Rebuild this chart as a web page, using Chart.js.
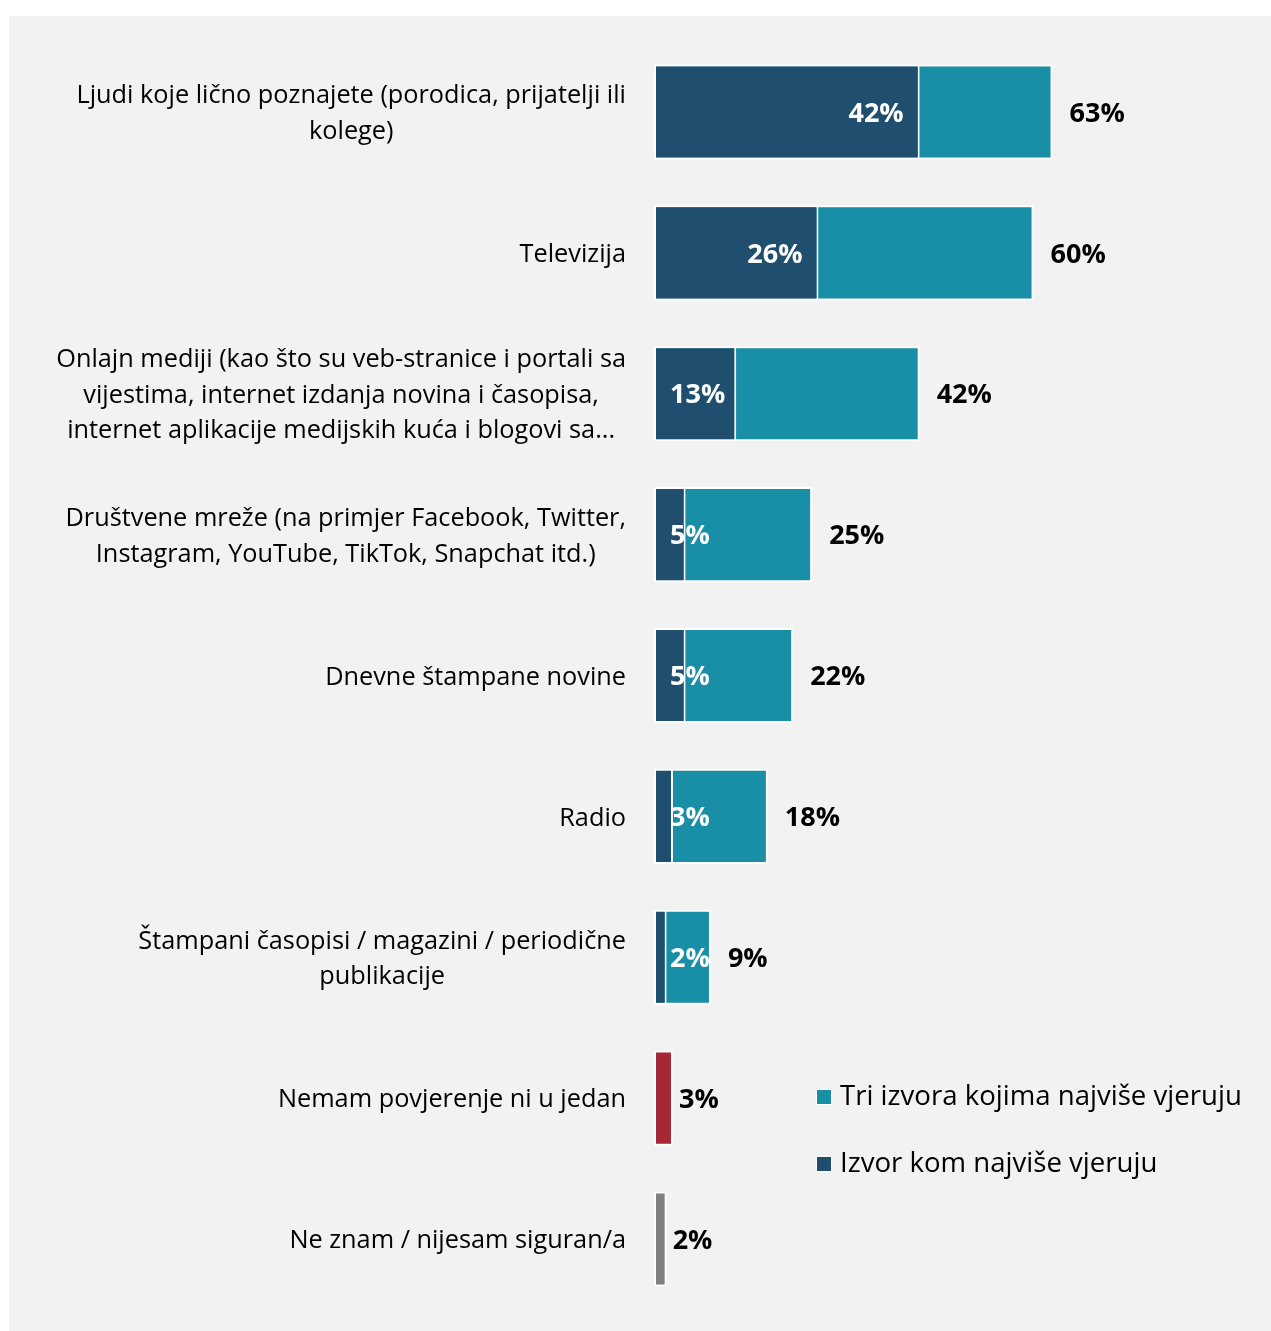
<!DOCTYPE html>
<html>
<head>
<meta charset="utf-8">
<script src="https://cdn.jsdelivr.net/npm/chart.js@4.4.1/dist/chart.umd.min.js"></script>
<style>
    html, body { margin: 0; padding: 0; background: #fff; }
    #grafikon { display: block; }
</style>
</head>
<body>
<canvas id="grafikon" width="1271" height="1331"></canvas>
<script>
const kategorije = [
    ["Ljudi koje lično poznajete (porodica, prijatelji ili", "kolege)"],
    ["Televizija"],
    ["Onlajn mediji (kao što su veb-stranice i portali sa", "vijestima, internet izdanja novina i časopisa,", "internet aplikacije medijskih kuća i blogovi sa..."],
    ["Društvene mreže (na primjer Facebook, Twitter,", "Instagram, YouTube, TikTok, Snapchat itd.)"],
    ["Dnevne štampane novine"],
    ["Radio"],
    ["Štampani časopisi / magazini / periodične", "publikacije"],
    ["Nemam povjerenje ni u jedan"],
    ["Ne znam / nijesam siguran/a"],
];
const triIzvora = [63, 60, 42, 25, 22, 18, 9, 3, 2];
const izvorKom = [42, 26, 13, 5, 5, 3, 2, null, null];
const bojeTri = ["#188ea7", "#188ea7", "#188ea7", "#188ea7", "#188ea7", "#188ea7", "#188ea7", "#a72835", "#808080"];
const tamna = "#1f4e6e";
const svijetla = "#188ea7";

const font = "'Open Sans', 'Noto Sans', sans-serif";

// pozadina
const pozadina = {
    id: "pozadina",
    beforeDraw(chart) {
        const c = chart.ctx;
        c.save();
        c.fillStyle = "#ffffff";
        c.fillRect(0, 0, chart.width, chart.height);
        c.fillStyle = "#f2f2f2";
        c.fillRect(9, 16, chart.width - 9, chart.height - 16);
        c.restore();
    },
};

// nazivi kategorija, centrirani blok, poravnat desno
const nazivi = {
    id: "nazivi",
    afterDraw(chart) {
        const c = chart.ctx;
        const y = chart.scales.y;
        c.save();
        c.font = "25.3px " + font;
        c.fillStyle = "#000";
        c.textBaseline = "middle";
        c.textAlign = "center";
        kategorije.forEach((linije, i) => {
            const sredina = y.getPixelForValue(i) + 2;
            const sirina = Math.max(...linije.map((l) => c.measureText(l).width));
            const xc = chart.chartArea.left - 28 - sirina / 2;
            const visina = 35.5;
            linije.forEach((l, j) => {
                c.fillText(l, xc, sredina + (j - (linije.length - 1) / 2) * visina);
            });
        });
        c.restore();
    },
};

// vrijednosti na trakama
const vrijednosti = {
    id: "vrijednosti",
    afterDatasetsDraw(chart) {
        const c = chart.ctx;
        c.save();
        c.font = "bold 27px " + font;
        c.textBaseline = "middle";
        c.textAlign = "left";
        chart.getDatasetMeta(0).data.forEach((el, i) => {
            const v = triIzvora[i];
            const pomak = i < 7 ? 17 : 6;
            c.fillStyle = "#000";
            c.fillText(v + "%", el.x + pomak, el.y + 2);
        });
        chart.getDatasetMeta(1).data.forEach((el, i) => {
            const v = izvorKom[i];
            if (v == null) return;
            const tekst = v + "%";
            const w = c.measureText(tekst).width;
            let lijevo = el.x - 16 - w;
            if (lijevo < el.base + 16) lijevo = el.base + 16;
            c.fillStyle = "#fff";
            c.fillText(tekst, lijevo, el.y + 2);
        });
        c.restore();
    },
};

// legenda
const legenda = {
    id: "legenda",
    afterDraw(chart) {
        const c = chart.ctx;
        const stavke = [
            { tekst: chart.data.datasets[0].label, boja: svijetla, y: 1097 },
            { tekst: chart.data.datasets[1].label, boja: tamna, y: 1164 },
        ];
        c.save();
        c.font = "27.6px " + font;
        c.textBaseline = "middle";
        c.textAlign = "left";
        stavke.forEach((s) => {
            c.fillStyle = "#fff";
            c.fillRect(816, s.y - 8, 16, 16);
            c.fillStyle = s.boja;
            c.fillRect(817, s.y - 7, 14, 14);
            c.fillStyle = "#000";
            c.fillText(s.tekst, 840, s.y);
        });
        c.restore();
    },
};

new Chart(document.getElementById("grafikon"), {
    type: "bar",
    data: {
        labels: kategorije.map((k) => k.join(" ")),
        datasets: [
            {
                label: "Tri izvora kojima najviše vjeruju",
                data: triIzvora,
                backgroundColor: bojeTri,
                borderColor: "#ffffff",
                borderWidth: 2,
                borderSkipped: false,
                grouped: false,
                order: 1,
                categoryPercentage: 1,
                barPercentage: 0.675,
            },
            {
                label: "Izvor kom najviše vjeruju",
                data: izvorKom,
                backgroundColor: tamna,
                borderColor: "#ffffff",
                borderWidth: 2,
                borderSkipped: false,
                grouped: false,
                order: 0,
                categoryPercentage: 1,
                barPercentage: 0.675,
            },
        ],
    },
    options: {
        indexAxis: "y",
        responsive: false,
        animation: false,
        layout: {
            padding: { left: 654, right: 54, top: 41.5, bottom: 21.5 },
        },
        scales: {
            x: { display: false, min: 0, max: 89 },
            y: { display: false },
        },
        plugins: {
            legend: { display: false },
            tooltip: { enabled: false },
        },
    },
    plugins: [pozadina, nazivi, vrijednosti, legenda],
});
</script>
</body>
</html>
